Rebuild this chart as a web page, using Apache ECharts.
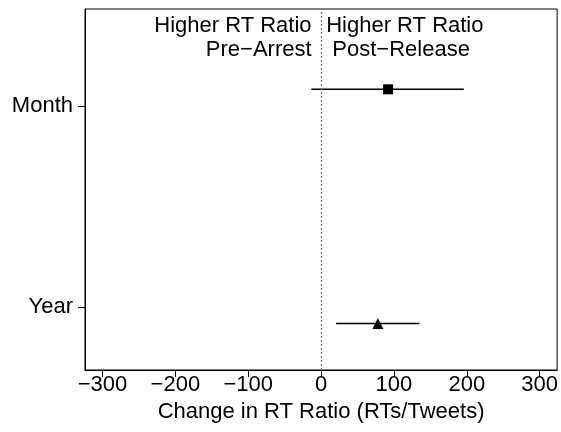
<!DOCTYPE html>
<html>
<head>
<meta charset="utf-8">
<script src="https://cdn.jsdelivr.net/npm/echarts@6/dist/echarts.min.js"></script>
<style>
html,body{margin:0;padding:0;background:#fff;}
#c{width:561px;height:432px;}
</style>
</head>
<body>
<div id="c"></div>
<script>
// ---- data ----
var categories = ['Month', 'Year'];
var estimates = [92, 78];
var lowerCI = [-13.5, 20.6];
var upperCI = [196, 135];
var xTicks = [-300, -200, -100, 0, 100, 200, 300];
var leftNote = ['Higher RT Ratio', 'Pre\u2212Arrest'];
var rightNote = ['Higher RT Ratio', ' Post\u2212Release'];
var xTitle = 'Change in RT Ratio (RTs/Tweets)';

// ---- layout helpers ----
var FONT = '"Liberation Sans", Arial, Helvetica, sans-serif';
var FS = 22;
var nCat = categories.length;
function catPos(i) { return nCat - i; }          // Month -> 2, Year -> 1
var pointShift = [0.083, -0.083];                  // vertical offset of mark from its tick
var symbols = ['rect', 'triangle'];
var symbolSizes = [10, 11];

var pointData = [], barData = [];
for (var i = 0; i < nCat; i++) {
  var y = catPos(i) + pointShift[i];
  pointData.push({ value: [estimates[i], y], symbol: symbols[i], symbolSize: symbolSizes[i] });
  barData.push([lowerCI[i], upperCI[i], y]);
}
var catTickVals = categories.map(function (c, i) { return catPos(i); });

function fmtX(v) { return v < 0 ? '\u2212' + Math.abs(v) : String(v); }

var chart = echarts.init(document.getElementById('c'), null, { renderer: 'canvas' });
chart.setOption({
  animation: false,
  backgroundColor: '#fff',
  textStyle: { fontFamily: FONT },
  grid: { left: 85, right: 2, top: 9, bottom: 62, show: true, borderColor: '#000', borderWidth: 1, backgroundColor: 'transparent' },
  xAxis: {
    type: 'value', min: -324, max: 324,
    splitLine: { show: false },
    axisLine: { show: true, onZero: false, lineStyle: { color: '#000', width: 1 } },
    axisTick: { show: true, length: 7, inside: false, lineStyle: { color: '#000' }, customValues: xTicks },
    axisLabel: { show: true, customValues: xTicks, formatter: fmtX, color: '#000', fontSize: FS, fontFamily: FONT, margin: 4 },
    name: xTitle, nameLocation: 'middle', nameGap: 31,
    nameTextStyle: { color: '#000', fontSize: FS, fontFamily: FONT }
  },
  yAxis: {
    type: 'value', min: 0.685, max: 2.483,
    splitLine: { show: false },
    axisLine: { show: true, onZero: false, lineStyle: { color: '#000', width: 1 } },
    axisTick: { show: true, length: 7, lineStyle: { color: '#000' }, customValues: catTickVals },
    axisLabel: {
      show: true, customValues: catTickVals, color: '#000', fontSize: FS, fontFamily: FONT, margin: 12,
      formatter: function (v) { return categories[nCat - Math.round(v)]; }
    }
  },
  series: [
    {
      type: 'custom',
      data: barData,
      encode: { x: [0, 1], y: 2 },
      renderItem: function (params, api) {
        var a = api.coord([api.value(0), api.value(2)]);
        var b = api.coord([api.value(1), api.value(2)]);
        return { type: 'line', shape: { x1: a[0], y1: a[1], x2: b[0], y2: b[1] }, style: { stroke: '#000', lineWidth: 1.5 } };
      },
      silent: true, z: 2
    },
    {
      type: 'scatter',
      data: pointData,
      itemStyle: { color: '#000', opacity: 1 },
      silent: true, z: 3,
      markLine: {
        silent: true, symbol: 'none',
        label: { show: false },
        lineStyle: { color: '#777', type: [2, 2], width: 1.3, opacity: 1 },
        data: [{ xAxis: 0 }]
      }
    },
    {
      type: 'scatter',
      symbolSize: 0,
      silent: true,
      itemStyle: { opacity: 1 },
      data: [
        { value: [-13, 2.339], label: { position: 'left', align: 'right', formatter: leftNote.join('\n') } },
        { value: [7, 2.339], label: { position: 'right', align: 'left', formatter: rightNote.join('\n') } }
      ],
      label: { show: true, distance: 0, color: '#000', opacity: 1, fontSize: FS, lineHeight: 24, fontFamily: FONT }
    }
  ]
});
</script>
</body>
</html>
